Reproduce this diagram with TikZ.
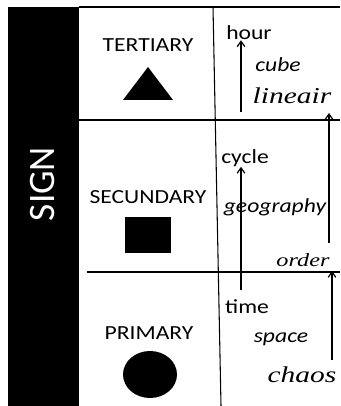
\documentclass[tikz,border=0pt]{standalone}
\usepackage{fontspec}
\setmainfont{Carlito}[FakeStretch=1.18]
\newfontfamily\signfam{Carlito}
\newfontfamily\serifit{Liberation Serif}[UprightFont=* Italic,FakeStretch=1.3]
\usetikzlibrary{arrows.meta}
\definecolor{ink}{HTML}{000000}
\definecolor{paper}{HTML}{FFFFFF}
\tikzset{
  rowlabel/.style={font=\fontsize{15}{17}\selectfont,inner sep=0pt,text=ink},
  wordsans/.style={font=\fontsize{15}{17}\selectfont,inner sep=0pt,text=ink},
  wordital/.style={font=\fontsize{15}{17}\selectfont\itshape,inner sep=0pt,text=ink},
  wordserif/.style={font=\serifit\fontsize{17}{19}\selectfont,inner sep=0pt,text=ink},
  uparr/.style={-{Straight Barb[length=1.4mm,width=2mm]},line width=0.9pt,color=ink},
  gridline/.style={line width=0.8pt,color=ink}
}

\begin{document}
\begin{tikzpicture}[x=0.75pt,y=-0.75pt]
  \useasboundingbox (0,0) rectangle (340,406);
  % black band with the title
  \fill[ink] (8,7) rectangle (79,406);
  \node[font=\fontsize{28}{30}\selectfont\signfam,text=paper,rotate=90,inner sep=0pt] (sign) at (43,184) {SIGN};
  % grid
  \draw[ink,line width=1.5pt] (79,7) -- (340,7);
  \draw[gridline] (79,120) -- (340,120);
  \draw[gridline] (87,272) -- (340,272);
  \draw[gridline] (213,7) -- (221,406);
  % levels
  \node[rowlabel] (tert) at (148,45) {TERTIARY};
  \fill[ink] (123,100) -- (173,100) -- (148,67) -- cycle;
  \node[rowlabel] (secu) at (148,197) {SECUNDARY};
  \fill[ink] (125,217) rectangle (171,253);
  \node[rowlabel] (prim) at (149,333) {PRIMARY};
  \fill[ink] (150,374.5) ellipse [x radius=27,y radius=23.5];
  % words
  \node[wordsans] (hour) at (249,33) {hour};
  \node[wordital] (cube) at (278,65) {cube};
  \node[wordserif] (lineair) at (292,96) {lineair};
  \node[wordsans] (cycl) at (245,158) {cycle};
  \node[wordital] (geog) at (275,207) {geography};
  \node[wordserif,font=\serifit\fontsize{14}{16}\selectfont] (order) at (303,260) {order};
  \node[wordsans] (time) at (247,307) {time};
  \node[wordital] (space) at (281,339) {space};
  \node[wordserif] (chaos) at (302,375) {chaos};
  % arrows
  \coordinate (a1) at (241,112);
  \coordinate (a2) at (329,243);
  \coordinate (a2t) at (329,113);
  \coordinate (a3) at (241,290);
  \coordinate (a4) at (332,360);
  \coordinate (a4t) at (332,271);
  \draw[uparr] (a1) -- (a1 |- hour.south);
  \draw[uparr] (a2) -- (a2t);
  \draw[uparr] (a3) -- (a3 |- cycl.south);
  \draw[uparr] (a4) -- (a4t);
\end{tikzpicture}
\end{document}
